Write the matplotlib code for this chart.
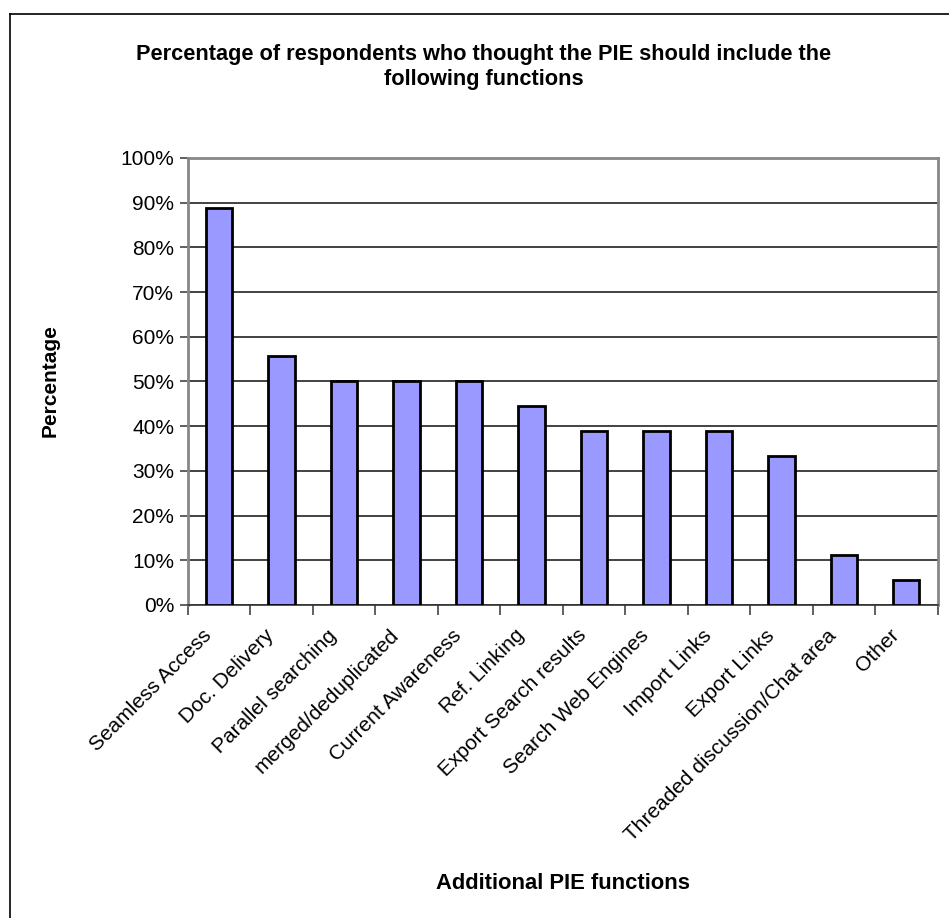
import numpy as np
import matplotlib
matplotlib.use("Agg")
import matplotlib.pyplot as plt
import matplotlib.transforms as mtransforms
from matplotlib.ticker import FixedLocator, PercentFormatter
from matplotlib.lines import Line2D

plt.rcParams['font.family'] = ['Liberation Sans', 'DejaVu Sans']

functions = ['Seamless Access', 'Doc. Delivery', 'Parallel searching',
             'merged/deduplicated', 'Current Awareness', 'Ref. Linking',
             'Export Search results', 'Search Web Engines', 'Import Links',
             'Export Links', 'Threaded discussion/Chat area', 'Other']
percent = [88.9, 55.6, 50.0, 50.0, 50.0, 44.4, 38.9, 38.9, 38.9, 33.3, 11.1, 5.6]
yticks = [0, 10, 20, 30, 40, 50, 60, 70, 80, 90, 100]

fig = plt.figure(figsize=(9.49, 9.18), dpi=100)
ax = fig.add_axes([0.198, 0.341, 0.790, 0.487])

x = np.arange(len(functions))
ax.bar(x, percent, width=0.42, color='#9999ff', edgecolor='black', linewidth=2, zorder=3)

ax.set_xlim(-0.5, len(functions) - 0.5)
ax.set_ylim(0, 100)
ax.set_yticks(yticks)
ax.yaxis.set_major_formatter(PercentFormatter(decimals=0))
ax.tick_params(axis='y', labelsize=15, length=6, width=1.2, color='#444444', pad=4, direction='out')

ax.set_xticks(x)
ax.set_xticklabels(functions, rotation=45, ha='right', rotation_mode='anchor', fontsize=15)
ax.xaxis.set_minor_locator(FixedLocator(np.arange(-0.5, len(functions), 1.0)))
ax.tick_params(axis='x', which='major', length=0, pad=15)
ax.tick_params(axis='x', which='minor', length=7, width=1.2, color='#444444', direction='out')
# shift rotated labels so their ends sit just left of the bar centres
offset = mtransforms.ScaledTranslation(-17 / 100, 0, fig.dpi_scale_trans)
for lab in ax.get_xticklabels():
    lab.set_transform(lab.get_transform() + offset)

ax.grid(axis='y', color='#222222', linewidth=1.2, zorder=0)
for side in ['left', 'right', 'top']:
    ax.spines[side].set_color('#888888')
    ax.spines[side].set_linewidth(2)
ax.spines['bottom'].set_color('#333333')
ax.spines['bottom'].set_linewidth(1.2)

fig.text(0.5095, 0.927, 'Percentage of respondents who thought the PIE should include the\nfollowing functions',
         ha='center', va='center', fontsize=15.7, fontweight='bold', linespacing=1.3)
fig.text(0.593, 0.038, 'Additional PIE functions', ha='center', va='center', fontsize=15.8, fontweight='bold')
fig.text(0.053, 0.585, 'Percentage', ha='center', va='center', rotation=90, fontsize=15, fontweight='bold')

# outer chart border (left and top edges visible)
fig.add_artist(Line2D([0.011, 0.011], [0.0, 0.985], color='black', linewidth=1.2))
fig.add_artist(Line2D([0.011, 1.0], [0.985, 0.985], color='black', linewidth=1.2))

fig.savefig('out.png', dpi=100)
